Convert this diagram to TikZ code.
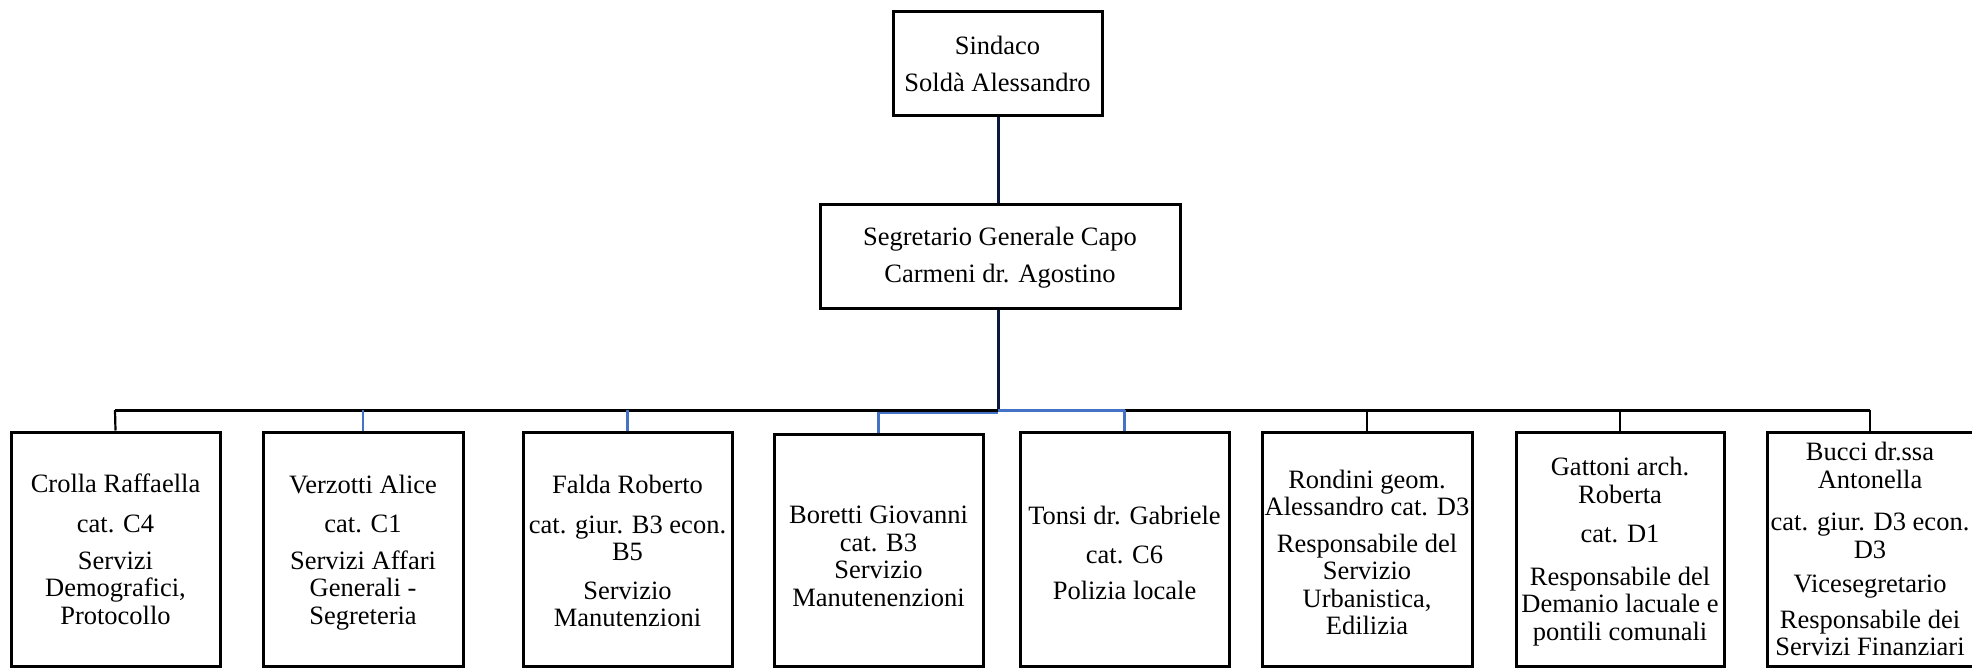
\documentclass[tikz,border=0pt]{standalone}
\usepackage{fontspec}
\setmainfont{Liberation Serif}
\definecolor{linkblue}{HTML}{4472C4}
\definecolor{navy}{HTML}{0B1A3C}
\begin{document}
\begin{tikzpicture}[x=1pt,y=-1pt,
  box/.style={draw=black,line width=3pt,rectangle,inner sep=0pt,align=center,
    font=\fontsize{26.5}{27.5}\selectfont},
  blk/.style={draw=black,line width=2.2pt},
  blu/.style={draw=linkblue,line width=2.2pt},
  trunk/.style={draw=navy,line width=3pt}]
\useasboundingbox (0,0) rectangle (1972,668);
\begin{scope}
\clip (0,0) rectangle (1972,668);
% top boxes
\node[box,minimum width=209pt,minimum height=104pt] (sind) at (997.5,64)
  {Sindaco\\[9pt]Soldà Alessandro};
\node[box,minimum width=360pt,minimum height=103pt] (segr) at (1000,256.5)
  {\vphantom{Ag}\\[-24pt]Segretario Generale Capo\\[10pt]Carmeni dr. Agostino};
% bottom boxes
\node[box,minimum width=209pt,minimum height=234pt] (b1) at (115.5,549)
  {Crolla Raffaella\\[13pt]cat. C4\\[9pt]Servizi\\Demografici,\\Protocollo};
\node[box,minimum width=200pt,minimum height=234pt] (b2) at (363,549)
  {\vphantom{Ag}\\[-20pt]Verzotti Alice\\[12pt]cat. C1\\[9pt]Servizi Affari\\Generali -\\Segreteria};
\node[box,minimum width=209pt,minimum height=234pt] (b3) at (627.5,549)
  {\vphantom{Ag}\\[-22pt]Falda Roberto\\[12pt]cat. giur. B3 econ.\\B5\\[11pt]Servizio\\Manutenzioni};
\node[box,minimum width=209pt,minimum height=232pt] (b4) at (878.5,550)
  {\vphantom{Ag}\\[-15pt]Boretti Giovanni\\cat. B3\\Servizio\\Manutenenzioni};
\node[box,minimum width=209pt,minimum height=234pt] (b5) at (1124.5,549)
  {\vphantom{Ag}\\[-19pt]Tonsi dr. Gabriele\\[12pt]cat. C6\\[8pt]Polizia locale};
\node[box,minimum width=210pt,minimum height=234pt] (b6) at (1367,549)
  {\vphantom{Ag}\\[-20pt]Rondini geom.\\Alessandro cat. D3\\[9pt]Responsabile del\\Servizio\\Urbanistica,\\Edilizia};
\node[box,minimum width=208pt,minimum height=234pt] (b7) at (1620,549)
  {\vphantom{Ag}\\[-21pt]Gattoni arch.\\Roberta\\[12pt]cat. D1\\[15pt]Responsabile del\\Demanio lacuale e\\pontili comunali};
\node[box,minimum width=206pt,minimum height=234pt] (b8) at (1870,549)
  {Bucci dr.ssa\\Antonella\\[15pt]cat. giur. D3 econ.\\D3\\[7pt]Vicesegretario\\[8pt]Responsabile dei\\Servizi Finanziari};
\end{scope}
% junction coordinates on the bus
\coordinate (bus) at (998,410);
\coordinate (busL) at (115,410);
\coordinate (busR) at (1870,410);
% trunk
\draw[trunk] (sind.south -| bus) -- (segr.north -| bus);
\draw[trunk] (segr.south -| bus) -- (bus);
% bus
\draw[draw=black,line width=3pt] (busL) -- (busR);
\draw[draw=linkblue,line width=3pt] (bus) -- (bus -| b5.north);
% drops
\draw[blk] (busL) -- (b1.north);
\draw[blu] (b2.north |- bus) -- (b2.north);
\draw[blu] (b3.north |- bus) -- (b3.north);
\draw[blu] (998,413) -- (b4.north |- 0,413) -- (b4.north);
\draw[blu] (b5.north |- bus) -- (b5.north);
\draw[blk] (b6.north |- bus) -- (b6.north);
\draw[blk] (b7.north |- bus) -- (b7.north);
\draw[blk] (busR) -- (b8.north);
\end{tikzpicture}
\end{document}
